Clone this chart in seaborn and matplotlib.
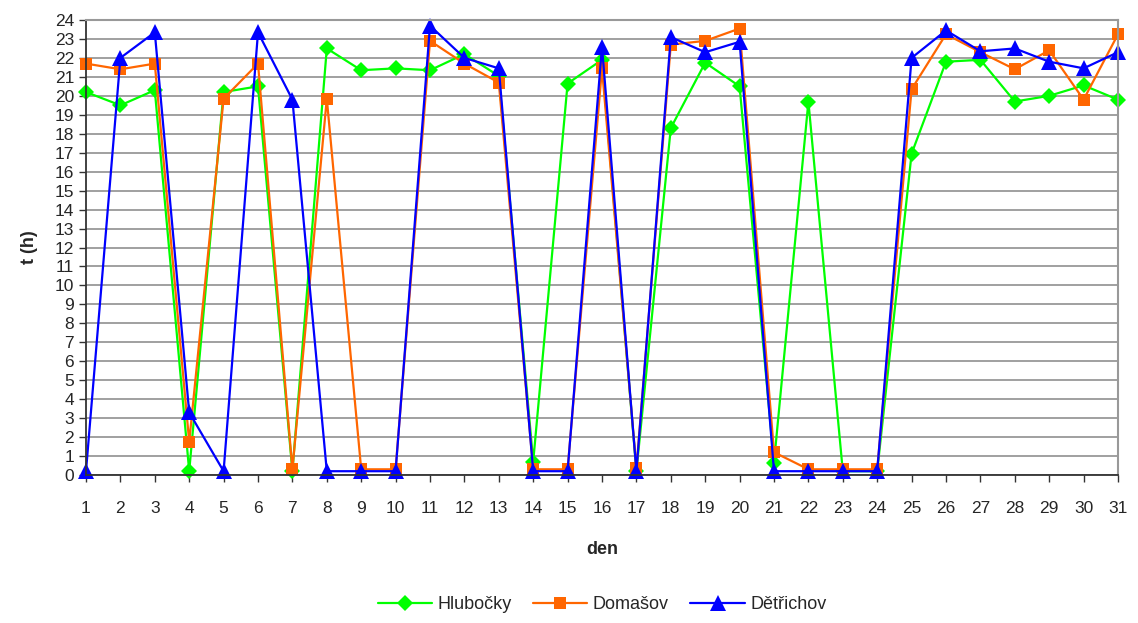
import pandas as pd
import seaborn as sns
import matplotlib.pyplot as plt

# days of the month
dny = list(range(1, 32))

# hours per day at each station
hlubocky = [20.2, 19.5, 20.3, 0.2, 20.2, 20.5, 0.2, 22.5, 21.35, 21.45,
            21.35, 22.2, 21.05, 0.7, 20.65, 21.9, 0.2, 18.3, 21.75, 20.5,
            0.65, 19.7, 0.2, 0.2, 16.95, 21.8, 21.9, 19.7, 20.0, 20.55, 19.8]
domasov = [21.7, 21.4, 21.7, 1.75, 19.85, 21.7, 0.3, 19.85, 0.3, 0.3,
           22.9, 21.7, 20.7, 0.3, 0.3, 21.45, 0.35, 22.7, 22.9, 23.55,
           1.2, 0.3, 0.3, 0.3, 20.35, 23.25, 22.3, 21.4, 22.4, 19.8, 23.25]
detrichov = [0.2, 22.0, 23.35, 3.3, 0.2, 23.35, 19.8, 0.2, 0.2, 0.2,
             23.7, 22.0, 21.45, 0.2, 0.2, 22.6, 0.2, 23.1, 22.3, 22.85,
             0.2, 0.2, 0.2, 0.2, 22.0, 23.45, 22.35, 22.5, 21.8, 21.45, 22.3]

stanice = ["Hlubočky", "Domašov", "Dětřichov"]
barvy = {"Hlubočky": "#00FF00", "Domašov": "#FF6600", "Dětřichov": "#0000FF"}
znacky = {"Hlubočky": "D", "Domašov": "s", "Dětřichov": "^"}
velikost = {"D": 8.5, "s": 9, "^": 11.5}

df = pd.DataFrame({
    "den": dny * 3,
    "t": hlubocky + domasov + detrichov,
    "stanice": [s for s in stanice for _ in dny],
})

sns.set_style("white")
plt.rcParams["font.family"] = ["Liberation Sans", "DejaVu Sans"]

fig = plt.figure(figsize=(11.38, 6.23), dpi=100)
ax = fig.add_axes([86 / 1138, 1 - 475 / 623, (1118 - 86) / 1138, (475 - 20) / 623])

sns.lineplot(data=df, x="den", y="t", hue="stanice", style="stanice",
             palette=barvy, markers=znacky, dashes=False, linewidth=1.6,
             markersize=9, markeredgewidth=0, ax=ax, legend=True)

# bigger triangles like the original, markers not cut at the edges
for ln in ax.lines:
    m = ln.get_marker()
    if m in velikost:
        ln.set_markersize(velikost[m])
    ln.set_clip_on(False)

ax.set_xlim(1, 31)
ax.set_ylim(0, 24)
ax.set_xticks(dny)
ax.set_yticks(range(0, 25))
ax.tick_params(axis="both", labelsize=12.5, length=5, width=1, color="#333333",
               direction="out", left=True, bottom=True)
ax.tick_params(axis="x", pad=14)
ax.grid(axis="y", color="#999999", linewidth=1.3)
ax.grid(axis="x", visible=False)
for s in ["top", "right"]:
    ax.spines[s].set_color("#999999")
    ax.spines[s].set_linewidth(1.5)
for s in ["left", "bottom"]:
    ax.spines[s].set_color("#333333")
    ax.spines[s].set_linewidth(1.3)

ax.set_xlabel("den", fontsize=13, fontweight="bold", labelpad=18)
ax.set_ylabel("t (h)", fontsize=13, fontweight="bold", labelpad=12)

h, l = ax.get_legend_handles_labels()
for hd in h:
    m = hd.get_marker()
    if m in velikost:
        hd.set_markersize(velikost[m])
ax.legend(h, l, loc="lower center", bbox_to_anchor=(0.5, -0.34), ncol=3,
          frameon=False, fontsize=13, handlelength=3, columnspacing=1.2,
          handletextpad=0.3)

fig.savefig("out.png", dpi=100)
